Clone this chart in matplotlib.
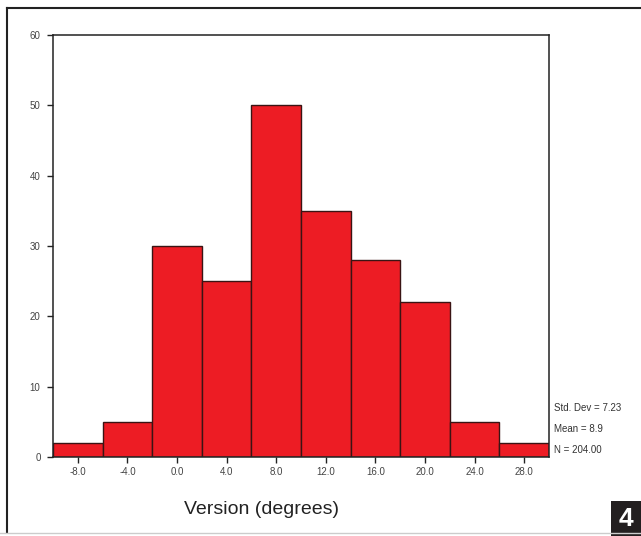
import matplotlib.pyplot as plt
from matplotlib.patches import Rectangle
from matplotlib.lines import Line2D
from matplotlib import font_manager

plt.rcParams["font.family"] = ["Liberation Sans", "DejaVu Sans"]

# histogram data: bin centres and counts
bin_centers = [-8, -4, 0, 4, 8, 12, 16, 20, 24, 28]
counts = [2, 5, 30, 25, 50, 35, 28, 22, 5, 2]
bin_width = 4
x_ticks = [-8, -4, 0, 4, 8, 12, 16, 20, 24, 28]
y_ticks = [0, 10, 20, 30, 40, 50, 60]
stats = ["Std. Dev = 7.23", "Mean = 8.9", "N = 204.00"]

fig = plt.figure(figsize=(6.41, 5.36), dpi=100)
ax = fig.add_axes([0.0827, 0.1474, 0.7738, 0.7873])

ax.bar(bin_centers, counts, width=bin_width, color="#ED1C24",
       edgecolor="#3a1414", linewidth=1.0, align="center")

ax.set_xlim(-10, 30)
ax.set_ylim(0, 60)
ax.set_xticks(x_ticks)
ax.set_xticklabels([f"{v:.1f}" for v in x_ticks], fontsize=7, color="#444444")
ax.set_yticks(y_ticks)
ax.set_yticklabels([str(v) for v in y_ticks], fontsize=7, color="#444444")
ax.tick_params(axis="both", direction="out", length=4, width=1, color="#222222")
ax.tick_params(axis="x", pad=3)
ax.tick_params(axis="y", pad=5)
for s in ax.spines.values():
    s.set_linewidth(1.1)
    s.set_color("#222222")

# x label sits left of the axes centre in the original
fig.text(262 / 641, 1 - 510 / 536, "Version (degrees)", fontsize=14,
         color="#222222", ha="center", va="center")

# stats box on the right
for i, t in enumerate(stats):
    fig.text(0.865, 0.238 - i * 0.039, t, fontsize=7, color="#333333",
             va="center", ha="left")

# outer frame
fig.add_artist(Line2D([7 / 641, 7 / 641], [4 / 536, 528 / 536],
                      color="#222222", linewidth=1.5))
fig.add_artist(Line2D([7 / 641, 1.0], [528 / 536, 528 / 536],
                      color="#222222", linewidth=1.5))
fig.add_artist(Line2D([0, 1.0], [3 / 536, 3 / 536],
                      color="#cccccc", linewidth=1.0))

# panel label
fig.add_artist(Rectangle((611 / 641, 0), 30 / 641, 35 / 536,
                         transform=fig.transFigure, facecolor="#231f20",
                         edgecolor="none"))
names = {f.name for f in font_manager.fontManager.ttflist}
label_font = ["Liberation Sans Narrow"] if "Liberation Sans Narrow" in names else ["Liberation Sans"]
fig.text(626 / 641, 17 / 536, "4", fontsize=19, fontweight="bold",
         family=label_font, color="white", ha="center", va="center")

fig.savefig("out.png", dpi=100)
